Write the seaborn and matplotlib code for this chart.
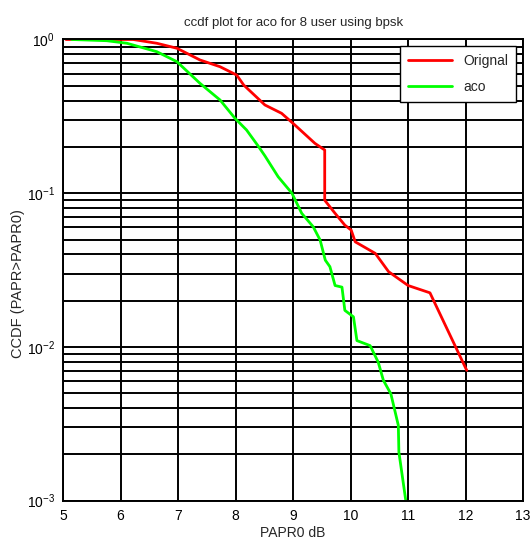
import numpy as np
import pandas as pd
import matplotlib
matplotlib.use("Agg")
import matplotlib.pyplot as plt
import seaborn as sns
from matplotlib.ticker import LogLocator

# PAPR0 (dB) and CCDF values
orig_x = [5.05, 6.22, 6.63, 6.98, 7.38, 7.73, 8.02, 8.14, 8.51, 8.80, 9.03, 9.38,
          9.55, 9.55, 9.73, 9.90, 10.01, 10.08, 10.43, 10.66, 11.0, 11.38, 12.02]
orig_y = [1.0, 1.0, 0.945, 0.877, 0.736, 0.665, 0.587, 0.506, 0.375, 0.331, 0.278, 0.211,
          0.191, 0.090, 0.074, 0.062, 0.0576, 0.0483, 0.0406, 0.0309, 0.0251, 0.0225, 0.00704]

aco_x = [5.15, 5.76, 6.11, 6.63, 6.98, 7.38, 7.73, 7.99, 8.19, 8.40, 8.51, 8.74, 8.98,
         9.15, 9.35, 9.47, 9.56, 9.64, 9.73, 9.85, 9.90, 10.05, 10.11, 10.34, 10.48,
         10.57, 10.70, 10.83, 10.84, 10.96]
aco_y = [1.0, 0.982, 0.945, 0.833, 0.717, 0.519, 0.404, 0.307, 0.258, 0.201, 0.175, 0.128,
         0.100, 0.074, 0.0605, 0.0496, 0.0367, 0.0333, 0.0251, 0.0245, 0.0173, 0.0157,
         0.0110, 0.0102, 0.00797, 0.00607, 0.00496, 0.00309, 0.00207, 0.001]

df = pd.concat([
    pd.DataFrame({"papr": orig_x, "ccdf": orig_y, "series": "Orignal"}),
    pd.DataFrame({"papr": aco_x, "ccdf": aco_y, "series": "aco"}),
], ignore_index=True)

sns.set_style("white")
plt.rcParams["font.family"] = ["Liberation Sans", "DejaVu Sans"]

fig = plt.figure(figsize=(5.3, 5.44), dpi=100)
ax = fig.add_axes([0.119, 0.0796, 0.868, 0.8478])

# estimator=None + sort=False keeps the vertical drop of the red curve
sns.lineplot(data=df, x="papr", y="ccdf", hue="series", estimator=None, sort=False,
             palette={"Orignal": "#ff0000", "aco": "#00ff00"}, linewidth=2, ax=ax)

ax.set_yscale("log")
ax.set_xlim(5, 13)
ax.set_ylim(1e-3, 1)
ax.set_xticks(range(5, 14))
ax.yaxis.set_major_locator(LogLocator(base=10, numticks=10))
ax.yaxis.set_minor_locator(LogLocator(base=10, subs=np.arange(2, 10), numticks=20))
ax.grid(True, which="both", color="black", linewidth=1.4, linestyle="-")
ax.tick_params(axis="both", which="both", direction="in", labelsize=10, colors="black", pad=6)
ax.tick_params(axis="y", which="minor", length=0)
for s in ax.spines.values():
    s.set_color("black")
    s.set_linewidth(1.4)

ax.set_title("ccdf plot for aco for 8 user using bpsk", fontsize=9.5, pad=10)
ax.set_xlabel("PAPR0 dB", fontsize=10, labelpad=2)
ax.set_ylabel("CCDF (PAPR>PAPR0)", fontsize=10.5)
ax.yaxis.set_label_coords(-0.083, 0.47)

leg = ax.legend(loc="upper right", fontsize=10, frameon=True, fancybox=False,
                edgecolor="black", framealpha=1, borderaxespad=0.5, handlelength=3.2,
                labelspacing=0.85, borderpad=0.55)
leg.get_frame().set_linewidth(1.0)

fig.savefig("out.png", dpi=100)
